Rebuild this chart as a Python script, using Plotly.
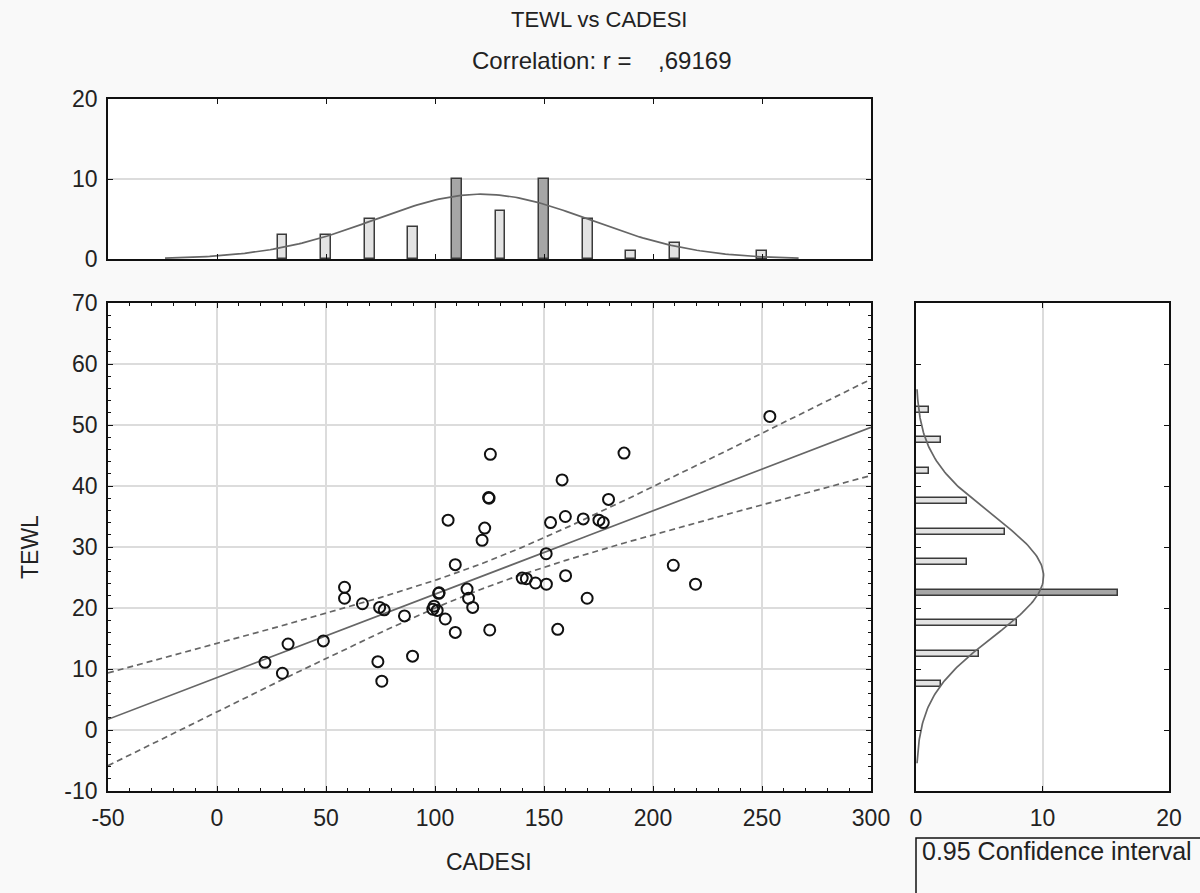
import numpy as np
import plotly.graph_objects as go

# ---- data ----
cadesi = [22.0, 30.0, 32.6, 48.8, 58.5, 58.5, 66.7, 73.8, 74.6, 75.6,
          76.7, 86.0, 89.7, 99.0, 99.6, 101.0, 101.7, 101.9, 104.7, 106.0,
          109.3, 109.3, 114.7, 115.4, 117.3, 121.6, 122.8, 124.6, 124.8, 125.4,
          125.1, 140.0, 141.9, 146.1, 151.1, 151.0, 153.0, 156.3, 158.3, 159.9,
          159.8, 168.0, 169.8, 175.2, 177.2, 179.6, 186.7, 209.3, 219.5, 253.6]
tewl = [11.1, 9.3, 14.1, 14.6, 23.4, 21.6, 20.7, 11.2, 20.1, 8.0,
        19.7, 18.7, 12.1, 19.8, 20.3, 19.6, 22.4, 22.5, 18.2, 34.4,
        27.1, 16.0, 23.1, 21.6, 20.1, 31.1, 33.1, 38.1, 38.0, 45.2,
        16.4, 24.9, 24.8, 24.1, 23.9, 28.9, 34.0, 16.5, 41.0, 25.3,
        35.0, 34.6, 21.6, 34.4, 34.0, 37.8, 45.4, 27.0, 23.9, 51.4]

x_bin_edges = list(range(20, 280, 20))
y_bin_edges = list(range(5, 60, 5))
x_ticks = [-50, 0, 50, 100, 150, 200, 250, 300]
x_tick_labels = ["-50", "0", "50", "100", "150", "200", "250", "300"]
y_ticks = [-10, 0, 10, 20, 30, 40, 50, 60, 70]
y_tick_labels = ["-10", "0", "10", "20", "30", "40", "50", "60", "70"]
t_crit = 2.0106  # t(0.975, 48)
r_text = "Correlation: r =\u00a0\u00a0\u00a0\u00a0,69169"

x = np.array(cadesi)
y = np.array(tewl)
n = len(x)

# regression and 95% confidence band of the mean
xm, ym = x.mean(), y.mean()
sxx = ((x - xm) ** 2).sum()
b = ((x - xm) * (y - ym)).sum() / sxx
a = ym - b * xm
s = np.sqrt(((y - (a + b * x)) ** 2).sum() / (n - 2))
xg = np.linspace(-50, 300, 300)
yg = a + b * xg
half = t_crit * s * np.sqrt(1.0 / n + (xg - xm) ** 2 / sxx)

# histograms
cx, ex = np.histogram(x, bins=x_bin_edges)
cy, ey = np.histogram(y, bins=y_bin_edges)
xc = (ex[:-1] + ex[1:]) / 2
yc = (ey[:-1] + ey[1:]) / 2
mx = cx > 0
my = cy > 0

sx = x.std(ddof=1)
sy = y.std(ddof=1)
xn = np.linspace(xm - 2.95 * sx, xm + 2.95 * sx, 200)
yn_curve = n * 20 * np.exp(-0.5 * ((xn - xm) / sx) ** 2) / (sx * np.sqrt(2 * np.pi))
yv = np.linspace(ym - 3.1 * sy, ym + 3.1 * sy, 200)
xv_curve = n * 5 * np.exp(-0.5 * ((yv - ym) / sy) ** 2) / (sy * np.sqrt(2 * np.pi))

def bar_colors(c):
    m = max(c)
    return ["#a6a6a6" if v == m else "#e3e3e3" for v in c]

fig = go.Figure()

# main scatter
fig.add_trace(go.Scatter(x=xg, y=yg + half, mode="lines", xaxis="x", yaxis="y",
                         line=dict(color="#666666", width=1.7, dash="6px,4px")))
fig.add_trace(go.Scatter(x=xg, y=yg - half, mode="lines", xaxis="x", yaxis="y",
                         line=dict(color="#666666", width=1.7, dash="6px,4px")))
fig.add_trace(go.Scatter(x=xg, y=yg, mode="lines", xaxis="x", yaxis="y",
                         line=dict(color="#666666", width=1.7)))
fig.add_trace(go.Scatter(x=x, y=y, mode="markers", xaxis="x", yaxis="y",
                         marker=dict(symbol="circle-open", size=11, color="#111111",
                                     line=dict(width=2, color="#111111"))))

# top histogram
fig.add_trace(go.Bar(x=xc[mx], y=cx[mx], width=4.5, xaxis="x2", yaxis="y2",
                     marker=dict(color=bar_colors(cx[mx]), line=dict(color="#3a3a3a", width=1.5))))
fig.add_trace(go.Scatter(x=xn, y=yn_curve, mode="lines", xaxis="x2", yaxis="y2",
                         line=dict(color="#666666", width=1.7)))

# right histogram
fig.add_trace(go.Bar(y=yc[my], x=cy[my], width=1.0, orientation="h", xaxis="x3", yaxis="y3",
                     marker=dict(color=bar_colors(cy[my]), line=dict(color="#3a3a3a", width=1.5))))
fig.add_trace(go.Scatter(x=xv_curve, y=yv, mode="lines", xaxis="x3", yaxis="y3",
                         line=dict(color="#666666", width=1.7)))

font = dict(family="Liberation Sans, Arial, sans-serif", size=23, color="#222222")
frame = dict(showline=True, linecolor="#111111", linewidth=1.6, mirror="ticks",
             ticks="inside", tickcolor="#111111", ticklen=5, zeroline=False,
             automargin=False, tickfont=font)

XD = [108 / 1200, 871 / 1200]
XD3 = [916 / 1200, 1169 / 1200]
YD = [1 - 791 / 893, 1 - 303 / 893]
YD2 = [1 - 259 / 893, 1 - 99 / 893]

fig.update_layout(
    width=1200, height=893,
    margin=dict(l=0, r=0, t=0, b=0),
    paper_bgcolor="#f9f9f9", plot_bgcolor="#ffffff",
    showlegend=False, font=font, bargap=0,
    xaxis=dict(domain=XD, range=[-50, 300], tickvals=x_ticks, ticktext=x_tick_labels,
               anchor="y", showgrid=True, gridcolor="#dcdcdc", gridwidth=1.5,
               ticklabelstandoff=6,
               minor=dict(dtick=10, tick0=0, ticks="inside", ticklen=3, tickcolor="#111111", showgrid=False),
               **frame),
    yaxis=dict(domain=YD, range=[-10, 70], tickvals=y_ticks, ticktext=y_tick_labels,
               anchor="x", showgrid=True, gridcolor="#dcdcdc", gridwidth=1.5,
               ticklabelstandoff=4,
               minor=dict(dtick=2, tick0=0, ticks="inside", ticklen=3, tickcolor="#111111", showgrid=False),
               **frame),
    xaxis2=dict(domain=XD, range=[-50, 300], dtick=50, tick0=0, anchor="y2",
                showgrid=False, showticklabels=False, **frame),
    yaxis2=dict(domain=YD2, range=[0, 20], dtick=10, anchor="x2",
                showgrid=True, gridcolor="#dcdcdc", gridwidth=1.5, ticklabelstandoff=4, **frame),
    xaxis3=dict(domain=XD3, range=[0, 20], dtick=10, anchor="y3",
                showgrid=True, gridcolor="#dcdcdc", gridwidth=1.5, ticklabelstandoff=6, **frame),
    yaxis3=dict(domain=YD, range=[-10, 70], dtick=10, anchor="x3",
                showgrid=False, showticklabels=False, **frame),
)

def label(text, px, py, size=23, **kw):
    f = dict(font)
    f["size"] = size
    fig.add_annotation(text=text, xref="paper", yref="paper", x=px / 1200, y=1 - py / 893,
                       showarrow=False, font=f, yanchor="middle",
                       **({"xanchor": "center"} | kw))

label("TEWL vs CADESI", 599, 20, size=22)
label(r_text, 601, 60, size=24)
label("CADESI", 489, 862)
label("TEWL", 30, 547, textangle=-90)

fig.add_shape(type="rect", xref="paper", yref="paper",
              x0=916 / 1200, x1=1.05, y0=-0.05, y1=1 - 838 / 893,
              line=dict(color="#111111", width=1.5))
label("0.95 Confidence interval", 920, 851, size=25, xanchor="left")

fig.write_html("out.html", config={"displayModeBar": False},
               post_script="document.body.style.margin='0';document.body.style.overflow='hidden';")
